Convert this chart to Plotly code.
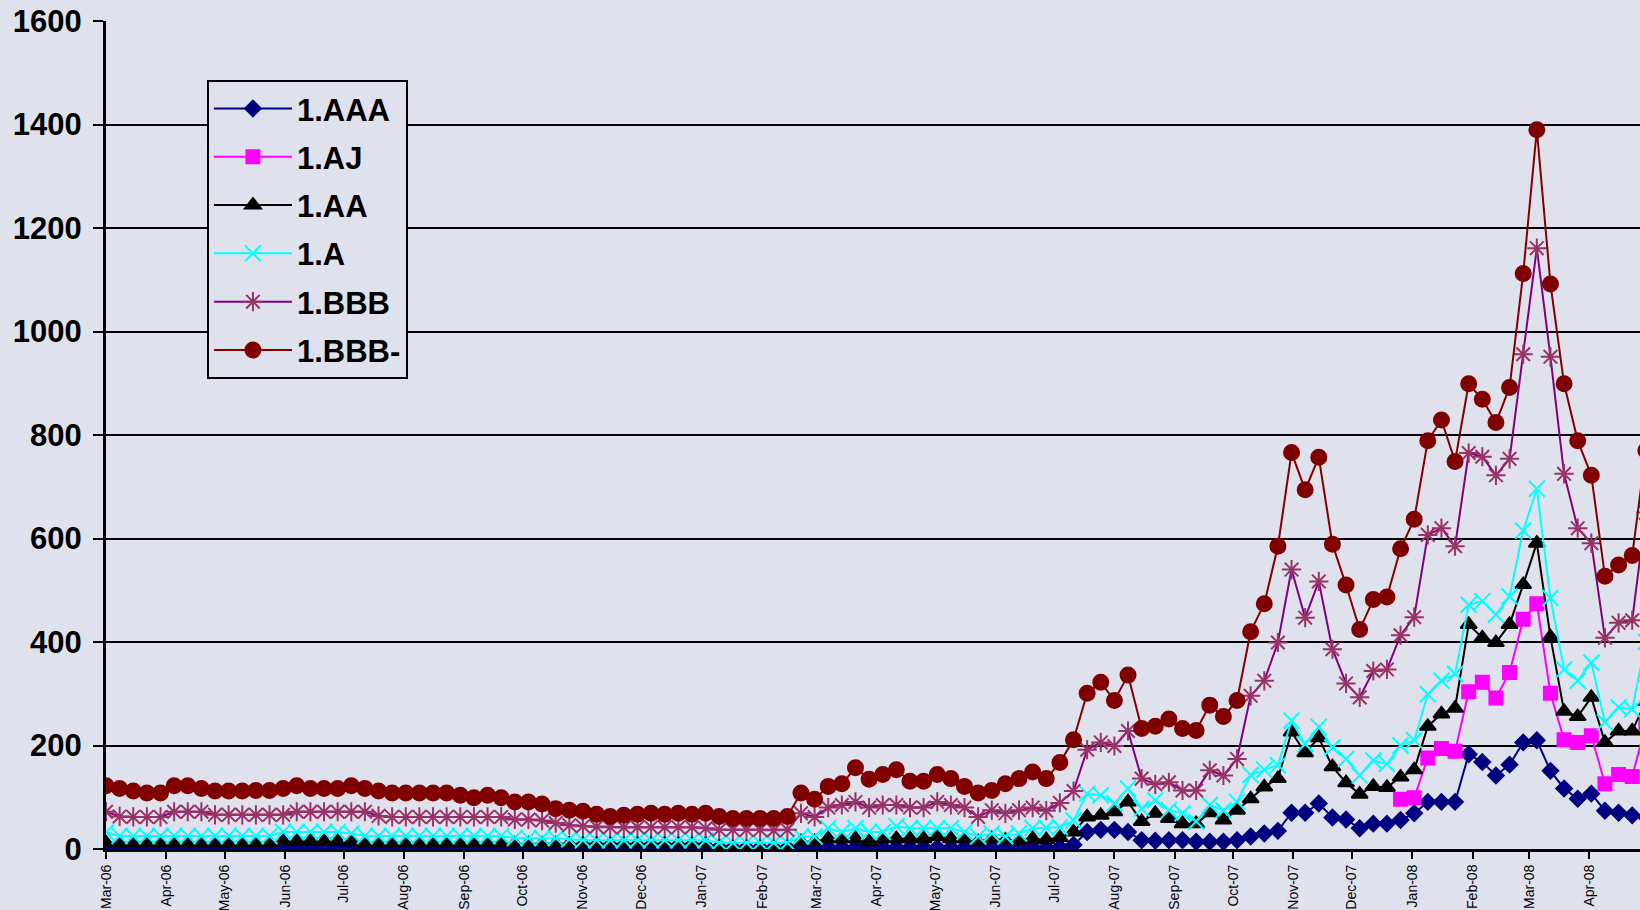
import pandas as pd
import plotly.graph_objects as go

# ---- data (weekly observations starting 1 Mar 2006) ----
start_date = "2006-03-01"
n_weeks = 114
weeks = pd.date_range(start_date, periods=n_weeks, freq="7D")

aaa = [3, 3, 3, 3, 3, 3, 3, 3, 3, 3,
       3, 3, 3, 3, 3, 3, 3, 3, 3, 3,
       3, 3, 3, 3, 3, 3, 3, 3, 3, 3,
       3, 3, 3, 3, 3, 3, 3, 3, 3, 3,
       3, 3, 3, 3, 3, 3, 2, 2, 2, 2,
       2, 3, 3, 3, 3, 3, 3, 3, 3, 3,
       3, 3, 3, 3, 3, 3, 3, 3, 3, 2,
       3, 8, 33, 37, 37, 33, 17, 16, 17, 17,
       14, 14, 14, 17, 24, 30, 35, 70, 70, 88,
       61, 57, 40, 49, 49, 56, 69, 91, 91, 91,
       183, 168, 142, 163, 206, 210, 151, 117, 97, 107,
       74, 70, 65, 62]

aj = [None] * 95 + [96, 99, 176, 194, 189, 304, 322, 292, 341, 444,
                    474, 301, 211, 206, 219, 126, 144, 140, 240]

aa = [12, 12, 12, 12, 12, 12, 12, 12, 12, 12,
      12, 12, 12, 15, 15, 15, 15, 15, 14, 12,
      12, 12, 12, 12, 12, 12, 12, 12, 12, 12,
      10, 10, 10, 10, 10, 10, 10, 10, 10, 10,
      10, 10, 10, 10, 10, 4, 2, 2, 2, 2,
      2, 14, 14, 20, 20, 20, 14, 20, 20, 20,
      20, 24, 20, 20, 14, 20, 17, 17, 20, 18,
      22, 33, 62, 65, 72, 91, 53, 69, 59, 49,
      49, 70, 56, 75, 97, 120, 136, 226, 186, 215,
      159, 128, 106, 121, 119, 139, 153, 237, 261, 272,
      434, 408, 399, 434, 511, 591, 410, 266, 256, 293,
      206, 228, 228, 285]

a = [32, 25, 25, 25, 25, 25, 25, 25, 25, 25,
     25, 25, 25, 33, 33, 33, 33, 33, 30, 25,
     25, 25, 25, 25, 25, 25, 25, 25, 25, 25,
     21, 21, 21, 21, 19, 17, 17, 17, 17, 17,
     17, 17, 17, 17, 17, 12, 12, 12, 12, 12,
     12, 24, 24, 40, 33, 40, 33, 33, 44, 40,
     40, 40, 40, 33, 24, 30, 24, 30, 40, 41,
     42, 55, 107, 104, 88, 117, 78, 94, 75, 69,
     53, 85, 75, 91, 143, 153, 162, 248, 203, 236,
     196, 174, 142, 171, 164, 200, 210, 299, 325, 338,
     472, 479, 453, 488, 615, 696, 485, 347, 325, 360,
     245, 274, 270, 400]

bbb = [72, 63, 62, 62, 62, 72, 72, 72, 66, 66,
       66, 66, 66, 66, 72, 72, 72, 72, 72, 72,
       64, 62, 62, 62, 62, 62, 62, 62, 62, 62,
       57, 57, 55, 50, 46, 44, 43, 42, 42, 42,
       42, 42, 42, 42, 40, 37, 37, 37, 37, 36,
       37, 69, 62, 80, 85, 91, 80, 85, 85, 80,
       80, 91, 85, 80, 62, 75, 69, 75, 80, 74,
       89, 112, 192, 206, 199, 228, 136, 125, 129, 113,
       113, 152, 142, 174, 296, 325, 399, 540, 447, 517,
       386, 320, 293, 344, 347, 413, 448, 607, 620, 585,
       765, 758, 722, 754, 956, 1161, 951, 725, 620, 591,
       408, 437, 442, 650]

bbb_minus = [122, 117, 112, 108, 108, 122, 122, 117, 112, 112,
             112, 113, 113, 117, 122, 117, 117, 117, 122, 117,
             112, 108, 108, 108, 108, 108, 104, 99, 104, 99,
             91, 91, 87, 78, 75, 73, 67, 63, 65, 67,
             69, 67, 69, 67, 69, 63, 59, 59, 59, 59,
             63, 108, 96, 121, 126, 157, 135, 144, 153, 131,
             131, 144, 136, 121, 108, 113, 126, 136, 149, 136,
             167, 211, 301, 322, 287, 336, 233, 237, 251, 233,
             229, 278, 256, 287, 420, 474, 585, 766, 694, 757,
             589, 510, 424, 482, 487, 580, 637, 789, 829, 749,
             899, 869, 824, 892, 1112, 1390, 1092, 899, 789, 722,
             527, 549, 567, 770]

series_names = ["1.AAA", "1.AJ", "1.AA", "1.A", "1.BBB", "1.BBB-"]
y_ticks = [0, 200, 400, 600, 800, 1000, 1200, 1400, 1600]
visible_days = 788

# ---- styles ----
BG = "#DFE1ED"
FONT = "Arial, Liberation Sans, sans-serif"
styles = [
    dict(line_color="#000080", symbol="diamond", mcolor="#000080", size=12),
    dict(line_color="#FF00FF", symbol="square", mcolor="#FF00FF", size=13),
    dict(line_color="#000000", symbol="triangle-up", mcolor="#000000", size=14),
    dict(line_color="#00FFFF", symbol="x-thin-open", mcolor="#00FFFF", size=16),
    dict(line_color="#800080", symbol="asterisk-open", mcolor="#993366", size=16),
    dict(line_color="#800000", symbol="circle", mcolor="#800000", size=15),
]

fig = go.Figure()
for name, vals, st in zip(series_names, [aaa, aj, aa, a, bbb, bbb_minus], styles):
    fig.add_trace(go.Scatter(
        x=weeks, y=vals, name=name, mode="lines+markers",
        legendgroup=name,
        line=dict(color=st["line_color"], width=2),
        marker=dict(symbol=st["symbol"], size=st["size"], color=st["mcolor"],
                    line=dict(color=st["mcolor"], width=2)),
        connectgaps=False,
    ))

x_end = pd.Timestamp(start_date) + pd.Timedelta(days=visible_days)

fig.update_layout(
    width=1640, height=910,
    paper_bgcolor=BG, plot_bgcolor=BG,
    margin=dict(l=106, r=0, t=21, b=61),
    font=dict(family=FONT, color="#000000"),
    showlegend=True,
    legend=dict(
        x=0.0658, y=0.929, xanchor="left", yanchor="top",
        bgcolor=BG, bordercolor="#000000", borderwidth=2,
        font=dict(family=FONT, size=31, color="#000000", weight="bold"),
        traceorder="grouped", tracegroupgap=5, itemwidth=78,
    ),
    xaxis=dict(
        type="date", range=[pd.Timestamp(start_date), x_end],
        tickformat="%b-%y", dtick="M1", tick0=start_date,
        tickangle=-90, tickfont=dict(family=FONT, size=14),
        ticks="outside", ticklen=7, tickwidth=2, tickcolor="#000000",
        showline=True, linecolor="#000000", linewidth=3,
        showgrid=False, zeroline=False,
    ),
    yaxis=dict(
        range=[0, 1600], tickvals=y_ticks,
        tickfont=dict(family=FONT, size=31, weight="bold"),
        ticks="outside", ticklen=10, tickwidth=2, tickcolor="#000000",
        ticklabelstandoff=5,
        showline=True, linecolor="#000000", linewidth=3,
        showgrid=True, gridcolor="#000000", gridwidth=2,
        zeroline=False,
    ),
)

fig.write_html("out.html", config={"displayModeBar": False},
               post_script="document.body.style.margin='0';")
